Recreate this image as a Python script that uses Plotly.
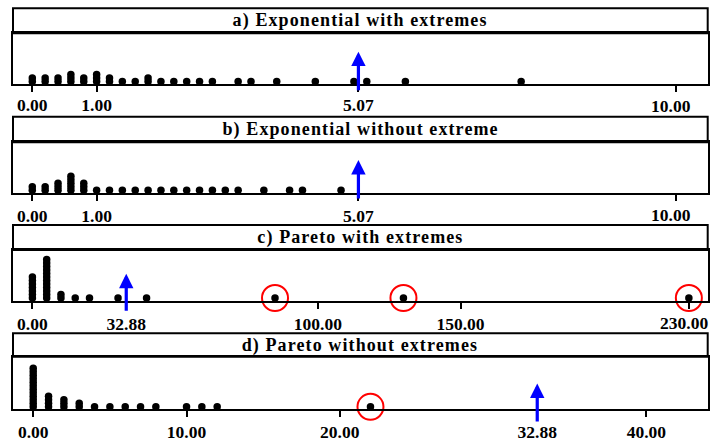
import plotly.graph_objects as go

# ---------------- data ----------------
exp_with_values = [0.0, 0.0, 0.2, 0.2, 0.4, 0.4, 0.6, 0.6, 0.6, 0.8, 0.8,
                   1.0, 1.0, 1.0, 1.2, 1.2, 1.4, 1.6, 1.8, 1.8, 2.0, 2.2, 2.4,
                   2.6, 2.8, 3.2, 3.4, 3.8, 4.4, 5.0, 5.2, 5.8, 7.6]
exp_without_values = [0.0, 0.0, 0.2, 0.2, 0.4, 0.4, 0.4, 0.6, 0.6, 0.6, 0.6, 0.6,
                      0.8, 0.8, 0.8, 1.0, 1.2, 1.4, 1.6, 1.8, 2.0, 2.2, 2.4, 2.6,
                      2.8, 3.0, 3.2, 3.6, 4.0, 4.2, 4.8]
pareto_with_values = [0]*7 + [5]*12 + [10]*2 + [15, 20, 30, 40, 85, 130, 230]
pareto_without_values = [0]*12 + [1]*4 + [2]*3 + [3]*2 + [4, 5, 6, 7, 8, 10, 11, 12, 22]

circled_a = []
circled_b = []
circled_c = [85, 130, 230]
circled_d = [22]

mean_a = 5.07
mean_b = 5.07
mean_c = 32.88
mean_d = 32.88

titles = ["a) Exponential with extremes", "b) Exponential without extreme",
          "c) Pareto with extremes", "d) Pareto without extremes"]

tickvals_a = [0, 1, 5.07, 10]
ticktext_a = ["0.00", "1.00", "5.07", "10.00"]
tickvals_b = [0, 1, 5.07, 10]
ticktext_b = ["0.00", "1.00", "5.07", "10.00"]
tickvals_c = [0, 32.88, 100, 150, 230]
ticktext_c = ["0.00", "32.88", "100.00", "150.00", "230.00"]
tickvals_d = [0, 10, 20, 32.88, 40]
ticktext_d = ["0.00", "10.00", "20.00", "32.88", "40.00"]

# ---------------- layout constants ----------------
W, H = 710, 441
L, R = 13.0, 707.7
BASE, STEP = 2.5, 3.5
FONT = "Liberation Serif"
TITLE_SIZE = 18
TICK_SIZE = 17.5
EDGE_SHIFT = -5  # keep the right-most tick label inside the page

panels = [
    dict(vals=exp_with_values, circ=circled_a, mean=mean_a, tv=tickvals_a, tt=ticktext_a,
         xr=[-0.30, 10.50], top=8.3, sep=33.3, axis=84.0, tip=32.3, tail=-7.7, so=-2),
    dict(vals=exp_without_values, circ=circled_b, mean=mean_b, tv=tickvals_b, tt=ticktext_b,
         xr=[-0.30, 10.50], top=116.7, sep=142.3, axis=192.7, tip=32.7, tail=-7.3, so=0),
    dict(vals=pareto_with_values, circ=circled_c, mean=mean_c, tv=tickvals_c, tt=ticktext_c,
         xr=[-6.8, 236.6], top=225.0, sep=250.0, axis=300.5, tip=26.7, tail=-11.7, so=0),
    dict(vals=pareto_without_values, circ=circled_d, mean=mean_d, tv=tickvals_d, tt=ticktext_d,
         xr=[-1.32, 44.0], top=333.3, sep=356.7, axis=409.3, tip=25.7, tail=-13.7, so=0),
]


def stack(vals):
    seen = {}
    ys = []
    for v in vals:
        k = seen.get(v, 0)
        ys.append(BASE + k * STEP)
        seen[v] = k + 1
    return ys


fig = go.Figure()
shapes = []
annotations = []
title_idx = []
layout = dict(width=W, height=H, margin=dict(l=0, r=0, t=0, b=0),
              paper_bgcolor="white", plot_bgcolor="white", showlegend=False)

tickfont = dict(family=FONT, size=TICK_SIZE, color="black", weight="bold")

for i, p in enumerate(panels, start=1):
    xa = "x" if i == 1 else f"x{i}"
    ya = "y" if i == 1 else f"y{i}"
    ys = stack(p["vals"])
    fig.add_trace(go.Scatter(x=p["vals"], y=ys, mode="markers", xaxis=xa, yaxis=ya,
                             marker=dict(size=7.5, color="black", line=dict(width=0)),
                             cliponaxis=False, hoverinfo="skip"))
    if p["circ"]:
        fig.add_trace(go.Scatter(x=p["circ"], y=[BASE] * len(p["circ"]), mode="markers",
                                 xaxis=xa, yaxis=ya, cliponaxis=False, hoverinfo="skip",
                                 marker=dict(symbol="circle-open", size=26,
                                             color="red", line=dict(width=2, color="red"))))
    h = p["axis"] - p["sep"]
    y0 = 1 - p["axis"] / H
    y1 = 1 - p["sep"] / H

    # a tick label whose text would run past the right page edge is drawn as an
    # annotation nudged slightly inwards
    tt = list(p["tt"])
    edge_labels = []
    for k, v in enumerate(p["tv"]):
        if v >= p["xr"][1] - 0.05 * (p["xr"][1] - p["xr"][0]):
            edge_labels.append((v, tt[k]))
            tt[k] = ""
    layout[f"xaxis{i}"] = dict(domain=[L / W, R / W], range=p["xr"], anchor=ya,
                               tickvals=p["tv"], ticktext=tt, ticks="outside",
                               ticklen=6, tickwidth=1.5, tickcolor="black",
                               showline=True, linecolor="black", linewidth=2, mirror=True,
                               showgrid=False, zeroline=False, ticklabelstandoff=p["so"],
                               tickfont=tickfont)
    for v, txt in edge_labels:
        annotations.append(dict(xref=xa, yref="paper", x=v, xshift=EDGE_SHIFT,
                                y=1 - (p["axis"] + 22) / H, yanchor="middle",
                                xanchor="center", showarrow=False, text=txt,
                                font=tickfont, borderpad=0))
    layout[f"yaxis{i}"] = dict(domain=[y0, y1], range=[0, h], anchor=xa,
                               showline=True, linecolor="black", linewidth=2, mirror=True,
                               showgrid=False, zeroline=False, showticklabels=False,
                               ticks="")
    # title band
    shapes.append(dict(type="rect", xref="paper", yref="paper",
                       x0=L / W, x1=R / W, y0=1 - p["sep"] / H, y1=1 - p["top"] / H,
                       line=dict(color="black", width=2), fillcolor="rgba(0,0,0,0)"))
    title_idx.append(len(annotations))
    annotations.append(dict(xref="paper", yref="paper", x=(L + R) / 2 / W,
                            y=1 - (p["top"] + p["sep"]) / 2 / H, xanchor="center",
                            yanchor="middle", showarrow=False, text=titles[i - 1],
                            font=dict(family=FONT, size=TITLE_SIZE, color="black",
                                      weight="bold")))
    # mean arrow
    annotations.append(dict(xref=xa, yref=ya, axref=xa, ayref=ya,
                            x=p["mean"], y=p["tip"], ax=p["mean"], ay=p["tail"],
                            text="", showarrow=True, arrowhead=2, arrowsize=0.9,
                            arrowwidth=3.2, arrowcolor="blue", standoff=0, startstandoff=0))

layout["shapes"] = shapes
layout["annotations"] = annotations
fig.update_layout(**layout)

selectors = ", ".join(f'.annotation[data-index="{k}"] .annotation-text' for k in title_idx)
page_js = """
var st = document.createElement('style');
st.textContent = '%s { letter-spacing: 1.1px; }';
document.head.appendChild(st);
""" % selectors
fig.write_html("out.html", post_script=page_js)
